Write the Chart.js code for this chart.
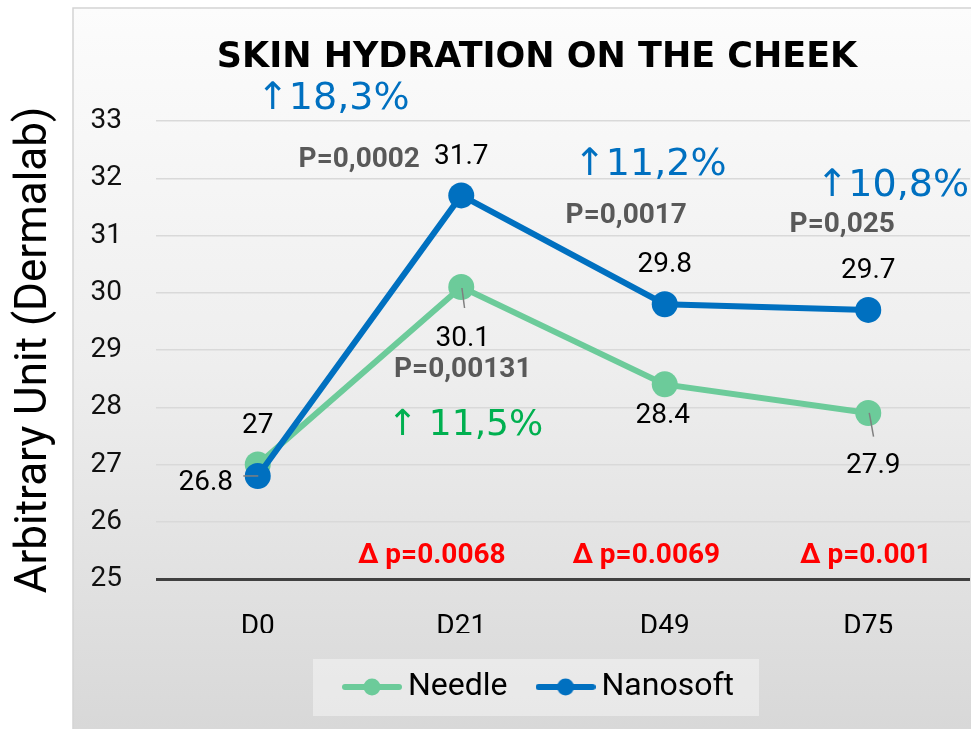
<!DOCTYPE html>
<html>
<head>
<meta charset="utf-8">
<script src="https://cdn.jsdelivr.net/npm/chart.js@4.4.1/dist/chart.umd.min.js"></script>
<style>
  html, body { margin: 0; padding: 0; background: #fff; }
</style>
</head>
<body>
<canvas id="chart" width="971" height="729"></canvas>
<script>
const categories = ["D0", "D21", "D49", "D75"];
const needle = [27, 30.1, 28.4, 27.9];
const nanosoft = [26.8, 31.7, 29.8, 29.7];
const nanosoftPValues = ["", "P=0,0002", "P=0,0017", "P=0,025"];
const nanosoftGains = ["", "↑18,3%", "↑11,2%", "↑10,8%"];
const needlePValues = ["", "P=0,00131", "", ""];
const needleGains = ["", "↑ 11,5%", "", ""];
const deltaP = ["", "Δ p=0.0068", "Δ p=0.0069", "Δ p=0.001"];
const yMin = 25, yMax = 33, yStep = 1;

const GREEN = "#6ccb9a";
const BLUE = "#0070c0";

// where the texts sit, px from the point (centre of the text)
const valuePos = {
  needle: [[0, -42], [1.5, 49], [-2, 29], [5, 49.5]],
  nanosoft: [[-52, 4], [0, -42], [0, -42], [0, -42]]
};
const pPos = {
  needle: [null, [1.5, 80], null, null],
  nanosoft: [null, [-102, -38.5], [-38.5, -91.7], [-26, -88]]
};
const gainPos = {
  needle: [null, [4, 135], null, null],
  nanosoft: [null, [-128, -100], [-14.5, -143], [24.5, -128]]
};
const deltaDx = [0, -29.5, -18.5, -2.5];
const leaders = {
  needle: [null, [0.7, 1, 3.3, 21], null, [1, 0, 5.3, 23.7]],
  nanosoft: [[-14.5, 0, 0.5, 0], null, null, null]
};
// title and legend are centred on this x in the original
const headCenter = 537;

function legendIcon(color) {
  const c = document.createElement("canvas");
  c.width = 60; c.height = 20;
  const g = c.getContext("2d");
  g.strokeStyle = color;
  g.lineWidth = 6;
  g.lineCap = "round";
  g.beginPath(); g.moveTo(3, 10); g.lineTo(57, 10); g.stroke();
  g.fillStyle = color;
  g.beginPath(); g.arc(30, 10, 8.5, 0, Math.PI * 2); g.fill();
  return c;
}
const icons = [legendIcon(GREEN), legendIcon(BLUE)];

function text(ctx, str, x, cy, size, weight, family, color) {
  ctx.font = weight + " " + size + "px " + family;
  ctx.fillStyle = color;
  ctx.textAlign = "center";
  ctx.textBaseline = "alphabetic";
  ctx.fillText(str, x, cy + size * 0.36);
}

const decor = {
  id: "decor",
  afterLayout(chart) {
    const right = chart.width - 1;
    const left = 2 * headCenter - right;
    chart.titleBlock.left = left; chart.titleBlock.right = right;
    chart.legend.left = left + 6; chart.legend.right = right + 6;
  },
  beforeDraw(chart) {
    const ctx = chart.ctx;
    ctx.save();
    ctx.fillStyle = "#fff";
    ctx.fillRect(0, 0, chart.width, chart.height);
    const g = ctx.createLinearGradient(0, 8, 0, chart.height);
    g.addColorStop(0, "#fcfcfc");
    g.addColorStop(0.5, "#eeeeee");
    g.addColorStop(1, "#d8d8d8");
    ctx.fillStyle = g;
    ctx.fillRect(73, 8, chart.width - 73, chart.height - 8);
    ctx.strokeStyle = "#d4d4d4";
    ctx.lineWidth = 1.5;
    ctx.beginPath();
    ctx.moveTo(73, chart.height); ctx.lineTo(73, 8); ctx.lineTo(chart.width, 8);
    ctx.stroke();
    // legend background
    const hb = chart.legend.legendHitBoxes;
    if (hb && hb.length) {
      const last = hb[hb.length - 1];
      const cy = hb[0].top + hb[0].height / 2;
      ctx.fillStyle = "rgba(255,255,255,0.4)";
      ctx.fillRect(hb[0].left - 39, cy - 28, last.left + last.width + 25 - (hb[0].left - 39), 57);
    }
    ctx.restore();
  },
  afterDatasetsDraw(chart) {
    const ctx = chart.ctx;
    const x = chart.scales.x, y = chart.scales.y;
    const series = { needle: needle, nanosoft: nanosoft };
    ctx.save();
    // leader lines
    ctx.strokeStyle = "#7f7f7f";
    ctx.lineWidth = 1.5;
    for (const k in leaders) {
      leaders[k].forEach((l, i) => {
        if (!l) return;
        const px = x.getPixelForValue(i), py = y.getPixelForValue(series[k][i]);
        ctx.beginPath();
        ctx.moveTo(px + l[0], py + l[1]);
        ctx.lineTo(px + l[2], py + l[3]);
        ctx.stroke();
      });
    }
    for (const k in series) {
      series[k].forEach((v, i) => {
        const px = x.getPixelForValue(i), py = y.getPixelForValue(v);
        const p = valuePos[k][i];
        text(ctx, String(v), px + p[0], py + p[1], 28, "normal", "Roboto", "#000");
      });
    }
    const pv = { needle: needlePValues, nanosoft: nanosoftPValues };
    const gv = { needle: needleGains, nanosoft: nanosoftGains };
    for (const k in series) {
      series[k].forEach((v, i) => {
        const px = x.getPixelForValue(i), py = y.getPixelForValue(v);
        if (pv[k][i]) {
          const p = pPos[k][i];
          text(ctx, pv[k][i], px + p[0], py + p[1], 28, "bold", "Roboto", "#595959");
        }
        if (gv[k][i]) {
          const p = gainPos[k][i];
          if (k === "needle") text(ctx, gv[k][i], px + p[0], py + p[1], 36, "normal", "'DejaVu Sans'", "#00b050");
          else text(ctx, gv[k][i], px + p[0], py + p[1], 38, "normal", "'DejaVu Sans'", BLUE);
        }
      });
    }
    deltaP.forEach((s, i) => {
      if (!s) return;
      text(ctx, s, x.getPixelForValue(i) + deltaDx[i], y.getPixelForValue(yMin) - 26, 28, "bold", "Roboto", "#ff0000");
    });
    ctx.restore();
  }
};

new Chart(document.getElementById("chart"), {
  type: "line",
  data: {
    labels: categories,
    datasets: [
      {
        label: "Needle",
        data: needle,
        borderColor: GREEN,
        backgroundColor: GREEN,
        borderWidth: 6,
        pointRadius: 13,
        pointBorderWidth: 0,
        order: 1
      },
      {
        label: "Nanosoft",
        data: nanosoft,
        borderColor: BLUE,
        backgroundColor: BLUE,
        borderWidth: 6,
        pointRadius: 13,
        pointBorderWidth: 0,
        order: 0
      }
    ]
  },
  options: {
    responsive: false,
    animation: false,
    layout: { autoPadding: false, padding: { left: 0, right: 1, top: 0, bottom: 16 } },
    plugins: {
      tooltip: { enabled: false },
      title: {
        display: true,
        text: "SKIN HYDRATION ON THE CHEEK",
        color: "#000",
        font: { family: "'DejaVu Sans'", size: 35, weight: "bold", lineHeight: 1.2 },
        padding: { top: 37, bottom: 42 }
      },
      legend: {
        position: "bottom",
        labels: {
          color: "#000",
          font: { family: "Roboto", size: 32 },
          usePointStyle: true,
          pointStyleWidth: 40,
          padding: 38,
          generateLabels: () => ["Needle", "Nanosoft"].map((t, i) => ({
            text: t,
            pointStyle: icons[i],
            fillStyle: i ? BLUE : GREEN,
            strokeStyle: i ? BLUE : GREEN,
            lineWidth: 0,
            hidden: false,
            datasetIndex: i
          }))
        }
      }
    },
    scales: {
      x: {
        offset: true,
        grid: { display: false, drawTicks: false, offset: true },
        border: { display: false },
        ticks: { color: "#000", padding: 31, font: { family: "Roboto", size: 28 } },
        afterFit: (s) => { s.height = 54; s.paddingLeft = 0; s.paddingRight = 0; }
      },
      y: {
        min: yMin,
        max: yMax,
        border: { display: false },
        grid: {
          drawTicks: false,
          color: (c) => c.tick && c.tick.value === yMin ? "#404040" : "#d9d9d9",
          lineWidth: (c) => c.tick && c.tick.value === yMin ? 3 : 1.5
        },
        ticks: { stepSize: yStep, color: "#111", padding: 34, font: { family: "Roboto", size: 28 } },
        title: {
          display: true,
          text: "Arbitrary Unit (Dermalab)",
          color: "#000",
          font: { family: "Roboto", size: 44 },
          padding: { top: 9, bottom: 0 }
        },
        afterFit: (s) => { s.width = 156; }
      }
    }
  },
  plugins: [decor]
});
</script>
</body>
</html>
